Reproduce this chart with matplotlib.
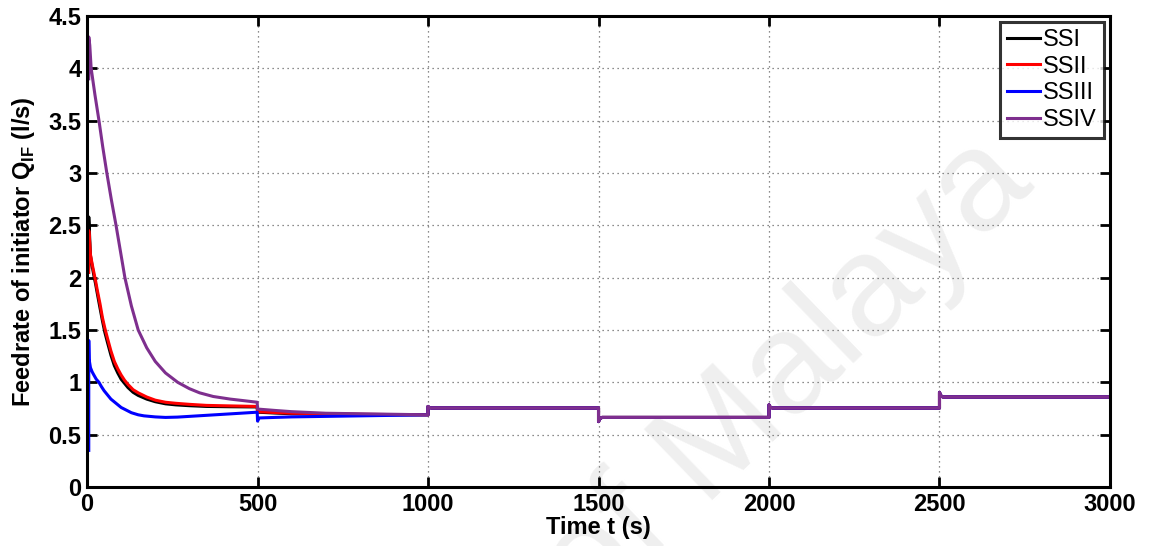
import matplotlib
matplotlib.use('Agg')
import matplotlib.pyplot as plt

# ---- data (time in s, feedrate in l/s) ----
t_ssi = [5, 5, 8, 10, 15, 20, 25, 30, 38, 45, 52, 60, 70, 80, 90, 100, 110, 120,
         135, 150, 175, 200, 230, 260, 300, 350, 420, 499,
         500, 550, 600, 700, 800, 900, 1000]
q_ssi = [2.10, 2.58, 2.36, 2.21, 2.11, 2.02, 1.94, 1.85, 1.71, 1.59, 1.48, 1.38, 1.26, 1.16, 1.09, 1.03, 0.99, 0.95,
         0.905, 0.875, 0.84, 0.815, 0.795, 0.785, 0.777, 0.77, 0.767, 0.765,
         0.715, 0.707, 0.70, 0.696, 0.693, 0.691, 0.69]

t_ssii = [5, 5, 8, 10, 15, 20, 25, 30, 38, 45, 52, 60, 70, 80, 90, 100, 110, 120,
          135, 150, 175, 200, 230, 260, 300, 350, 420, 499,
          500, 550, 600, 700, 800, 900, 1000]
q_ssii = [2.05, 2.45, 2.33, 2.22, 2.13, 2.05, 1.97, 1.88, 1.75, 1.62, 1.52, 1.42, 1.30, 1.20, 1.13, 1.07, 1.02, 0.98,
          0.93, 0.90, 0.86, 0.83, 0.81, 0.80, 0.79, 0.78, 0.775, 0.77,
          0.72, 0.712, 0.705, 0.70, 0.695, 0.692, 0.69]

t_ssiii = [5, 5, 6, 8, 10, 15, 20, 27, 35, 42, 50, 60, 70, 85, 100, 115, 130, 150,
           167, 200, 230, 265, 300, 350, 400, 450, 499,
           500, 505, 550, 600, 700, 800, 900, 1000]
q_ssiii = [0.35, 1.40, 1.22, 1.18, 1.14, 1.10, 1.07, 1.03, 1.00, 0.96, 0.92, 0.88, 0.84, 0.80, 0.76, 0.735, 0.71, 0.69,
           0.68, 0.67, 0.665, 0.668, 0.675, 0.685, 0.695, 0.705, 0.715,
           0.63, 0.66, 0.665, 0.67, 0.675, 0.68, 0.685, 0.69]

t_ssiv = [5, 5, 8, 12, 23, 35, 46, 58, 71, 85, 98, 111, 130, 150, 175, 200, 230,
          266, 300, 330, 370, 420, 460, 499,
          500, 550, 600, 700, 800, 900, 1000]
q_ssiv = [3.90, 4.30, 4.22, 4.00, 3.75, 3.50, 3.25, 3.00, 2.75, 2.50, 2.25, 2.00, 1.73, 1.50, 1.33, 1.20, 1.09,
          1.00, 0.94, 0.90, 0.865, 0.84, 0.825, 0.81,
          0.745, 0.732, 0.72, 0.705, 0.70, 0.695, 0.69]

# common part after t = 1000 s (all four curves overlap)
t_tail = [1000, 1003, 1010, 1500, 1500, 1503, 1510, 2000, 2000, 2003, 2010,
          2500, 2500, 2503, 2510, 3000]
q_tail = [0.77, 0.76, 0.755, 0.755, 0.625, 0.65, 0.665, 0.665, 0.785, 0.765, 0.755,
          0.755, 0.905, 0.875, 0.86, 0.86]

labels = ['SSI', 'SSII', 'SSIII', 'SSIV']
colors = ['#000000', '#ff0000', '#0000ff', '#7e2f8e']

plt.rcParams['font.family'] = ['Liberation Sans', 'DejaVu Sans']
plt.rcParams['mathtext.fontset'] = 'custom'
plt.rcParams['mathtext.rm'] = 'Liberation Sans'
plt.rcParams['mathtext.bf'] = 'Liberation Sans:bold'

fig = plt.figure(figsize=(11.5, 5.46), dpi=100)
ax = fig.add_axes([0.0757, 0.108, 0.8895, 0.8627])
ax.set_facecolor('none')

# watermark
fig.text(0.685, 0.31, 'of Malaya', fontsize=103, color='#efefef',
         rotation=44, ha='center', va='center', rotation_mode='anchor', zorder=-1)

series = [(t_ssi, q_ssi), (t_ssii, q_ssii), (t_ssiii, q_ssiii), (t_ssiv, q_ssiv)]
for (t, q), lab, c in zip(series, labels, colors):
    ax.plot(t + t_tail, q + q_tail, color=c, lw=2.2, label=lab)

ax.set_xlim(0, 3000)
ax.set_ylim(0, 4.5)
ax.set_xticks(range(0, 3001, 500))
yt = [0, 0.5, 1, 1.5, 2, 2.5, 3, 3.5, 4, 4.5]
ax.set_yticks(yt)
ax.set_yticklabels(['0', '0.5', '1', '1.5', '2', '2.5', '3', '3.5', '4', '4.5'])

ax.grid(True, color='#666666', linestyle=(0, (1, 3)), lw=0.9)
ax.tick_params(direction='in', length=7, width=2, top=True, right=True,
               labelsize=17, pad=4)
for lab in ax.get_xticklabels() + ax.get_yticklabels():
    lab.set_fontweight('bold')
for s in ax.spines.values():
    s.set_linewidth(2.2)

ax.set_xlabel('Time t (s)', fontsize=17, fontweight='bold', labelpad=0)
ax.set_ylabel(r'Feedrate of initiator Q$_{\mathbf{IF}}$ (l/s)', fontsize=17,
              fontweight='bold', labelpad=8)

leg = ax.legend(loc='upper right', fontsize=17, frameon=True, fancybox=False,
                handlelength=1.4, handletextpad=0.15, borderpad=0.3,
                labelspacing=0.2, borderaxespad=0.25)
leg.get_frame().set_edgecolor('black')
leg.get_frame().set_linewidth(2.2)

fig.savefig('out.png', dpi=100)
